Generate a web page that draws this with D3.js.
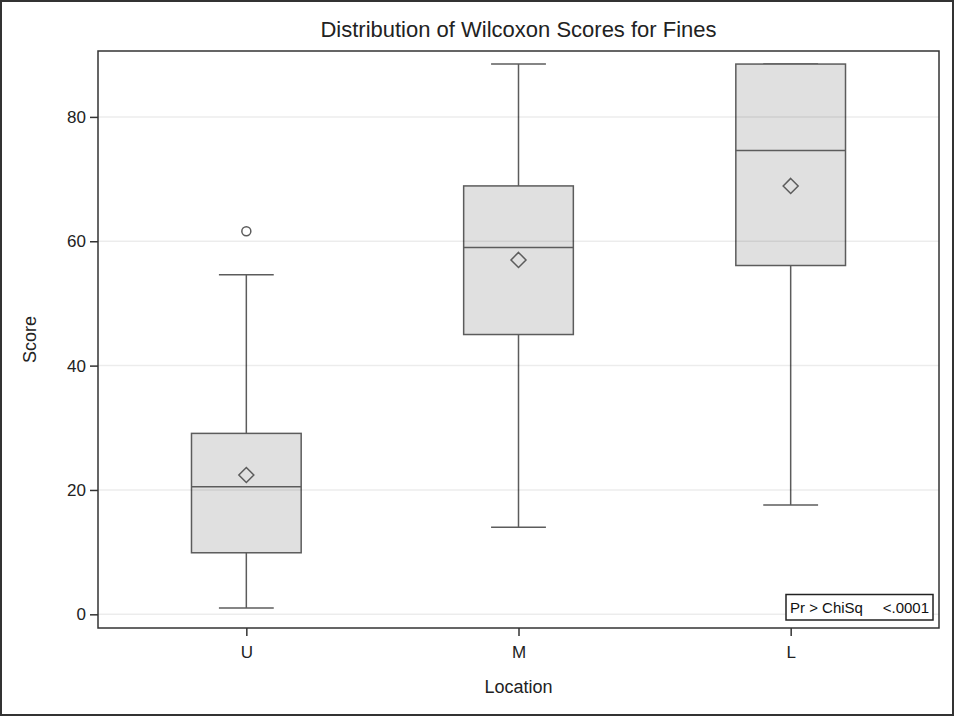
<!DOCTYPE html>
<html>
<head>
<meta charset="utf-8">
<script src="https://cdn.jsdelivr.net/npm/d3@7/dist/d3.min.js"></script>
<style>
  html, body { margin: 0; padding: 0; background: #fff; }
  svg { display: block; font-family: Arial, "Liberation Sans", sans-serif; }
</style>
</head>
<body>
<svg id="chart"></svg>
<script>
// box plot summary per location
let categories = ['U', 'M', 'L'];
let minVals = [1.0, 14.0, 17.6];
let q1Vals = [9.9, 45.0, 56.1];
let medianVals = [20.5, 59.0, 74.6];
let meanVals = [22.4, 57.0, 68.9];
let q3Vals = [29.1, 68.9, 88.5];
let maxVals = [54.6, 88.5, 88.5];
let outlierCats = ['U'];
let outlierVals = [61.6];
let yTicks = [0, 20, 40, 60, 80];

let width = 955, height = 719;
let frame = { left: 98, right: 939, top: 51, bottom: 628 };

let svg = d3.select('#chart')
  .attr('width', width)
  .attr('height', height);

// outer border
svg.append('rect')
  .attr('x', 1).attr('y', 1)
  .attr('width', 952).attr('height', 714)
  .attr('fill', '#fff')
  .attr('stroke', '#333')
  .attr('stroke-width', 2);

let x = d3.scalePoint()
  .domain(categories)
  .range([frame.left, frame.right])
  .padding(0.545);

let y = d3.scaleLinear()
  .domain([-2.2, 90.6])
  .range([frame.bottom, frame.top]);

let boxW = x.step() * 0.403;
let capW = boxW * 0.5;

let data = categories.map((c, i) => ({
  cat: c, min: minVals[i], q1: q1Vals[i], med: medianVals[i],
  mean: meanVals[i], q3: q3Vals[i], max: maxVals[i]
}));

let stroke = '#5c5c5c';
let g = svg.append('g');

// whiskers
g.selectAll('.whisker')
  .data(data)
  .enter()
  .append('line')
  .attr('x1', d => x(d.cat)).attr('x2', d => x(d.cat))
  .attr('y1', d => y(d.min)).attr('y2', d => y(d.max))
  .attr('stroke', stroke).attr('stroke-width', 1.5);

['min', 'max'].forEach(k => {
  g.selectAll('.cap-' + k)
    .data(data)
    .enter()
    .append('line')
    .attr('x1', d => x(d.cat) - capW / 2).attr('x2', d => x(d.cat) + capW / 2)
    .attr('y1', d => y(d[k])).attr('y2', d => y(d[k]))
    .attr('stroke', stroke).attr('stroke-width', 1.5);
});

// boxes
g.selectAll('.box')
  .data(data)
  .enter()
  .append('rect')
  .attr('x', d => x(d.cat) - boxW / 2)
  .attr('y', d => y(d.q3))
  .attr('width', boxW)
  .attr('height', d => y(d.q1) - y(d.q3))
  .attr('fill', '#e0e0e0')
  .attr('stroke', stroke).attr('stroke-width', 1.5);

// medians
g.selectAll('.median')
  .data(data)
  .enter()
  .append('line')
  .attr('x1', d => x(d.cat) - boxW / 2).attr('x2', d => x(d.cat) + boxW / 2)
  .attr('y1', d => y(d.med)).attr('y2', d => y(d.med))
  .attr('stroke', stroke).attr('stroke-width', 1.5);

// grid lines (drawn over boxes, faint)
svg.append('g')
  .selectAll('line')
  .data(yTicks)
  .enter()
  .append('line')
  .attr('x1', frame.left).attr('x2', frame.right)
  .attr('y1', d => y(d)).attr('y2', d => y(d))
  .attr('stroke', '#000')
  .attr('stroke-opacity', 0.075)
  .attr('stroke-width', 1.5);

// means (diamonds)
g.selectAll('.mean')
  .data(data)
  .enter()
  .append('path')
  .attr('d', d => {
    let cx = x(d.cat), cy = y(d.mean), r = 7.5;
    return `M${cx},${cy - r}L${cx + r},${cy}L${cx},${cy + r}L${cx - r},${cy}Z`;
  })
  .attr('fill', 'none')
  .attr('stroke', stroke).attr('stroke-width', 1.5);

// outliers
g.selectAll('.outlier')
  .data(outlierVals)
  .enter()
  .append('circle')
  .attr('cx', (d, i) => x(outlierCats[i]))
  .attr('cy', d => y(d))
  .attr('r', 4.5)
  .attr('fill', 'none')
  .attr('stroke', stroke).attr('stroke-width', 1.5);

// frame
svg.append('rect')
  .attr('x', frame.left).attr('y', frame.top)
  .attr('width', frame.right - frame.left)
  .attr('height', frame.bottom - frame.top)
  .attr('fill', 'none')
  .attr('stroke', '#333')
  .attr('stroke-width', 1.5);

// axes
let yAxis = svg.append('g')
  .attr('transform', 'translate(' + frame.left + ',0)')
  .call(d3.axisLeft(y).tickValues(yTicks).tickSize(8).tickPadding(4));

let xAxis = svg.append('g')
  .attr('transform', 'translate(0,' + frame.bottom + ')')
  .call(d3.axisBottom(x).tickSize(8).tickPadding(10));

[yAxis, xAxis].forEach(a => {
  a.select('.domain').remove();
  a.selectAll('.tick line').attr('stroke', '#333').attr('stroke-width', 1.5);
  a.selectAll('.tick text')
    .attr('fill', '#222')
    .style('font-size', '17px')
    .style('font-family', 'Arial, "Liberation Sans", sans-serif');
});

// titles
svg.append('text')
  .attr('x', (frame.left + frame.right) / 2)
  .attr('y', 37)
  .attr('text-anchor', 'middle')
  .attr('fill', '#222')
  .style('font-size', '22px')
  .text('Distribution of Wilcoxon Scores for Fines');

svg.append('text')
  .attr('x', (frame.left + frame.right) / 2)
  .attr('y', 693)
  .attr('text-anchor', 'middle')
  .attr('fill', '#222')
  .style('font-size', '18px')
  .text('Location');

svg.append('text')
  .attr('transform', 'translate(36,' + (frame.top + frame.bottom) / 2 + ') rotate(-90)')
  .attr('text-anchor', 'middle')
  .attr('fill', '#222')
  .style('font-size', '18px')
  .text('Score');

// p-value inset
let inset = svg.append('g');
inset.append('rect')
  .attr('x', 786).attr('y', 594.5)
  .attr('width', 147).attr('height', 25.5)
  .attr('fill', '#fff')
  .attr('stroke', '#222')
  .attr('stroke-width', 1.5);
inset.append('text')
  .attr('x', 790).attr('y', 613)
  .attr('fill', '#111')
  .style('font-size', '15px')
  .text('Pr > ChiSq');
inset.append('text')
  .attr('x', 929).attr('y', 613)
  .attr('text-anchor', 'end')
  .attr('fill', '#111')
  .style('font-size', '15px')
  .text('<.0001');
</script>
</body>
</html>
